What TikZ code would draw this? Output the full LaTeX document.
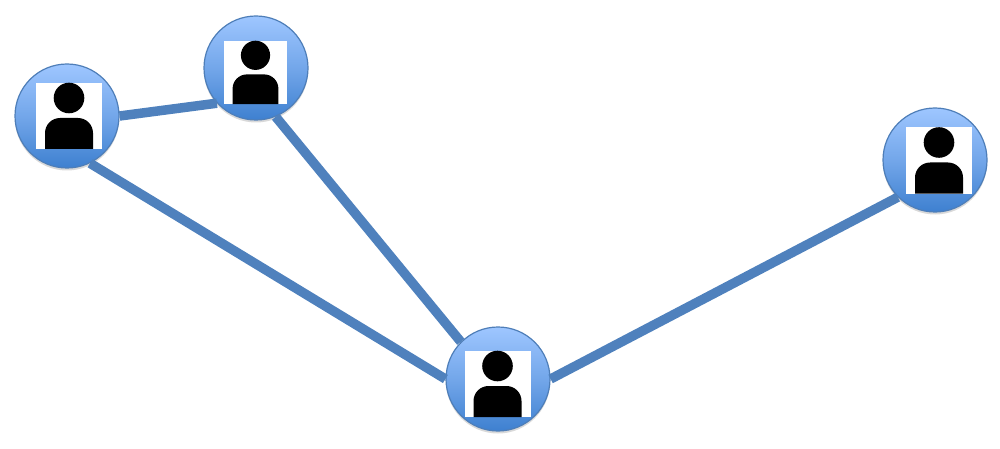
\documentclass[tikz,border=0pt]{standalone}
\usepackage{amsmath,amssymb,amsfonts}
\usepackage{tikz}
\usetikzlibrary{shadows,calc}
\definecolor{linkBlue}{RGB}{79, 129, 189}
\definecolor{discTop}{RGB}{158, 198, 255}
\definecolor{discBottom}{RGB}{62, 128, 208}
\definecolor{discEdge}{RGB}{78, 126, 184}
\tikzset{
  persondisc/.style={circle, draw=discEdge, line width=1.2pt, minimum size=104pt, inner sep=0pt,
    top color=discTop, bottom color=discBottom, middle color=discTop!55!discBottom,
    drop shadow={opacity=0.3, shadow xshift=0pt, shadow yshift=-2.5pt}},
  linkline/.style={linkBlue, line width=9.5pt,
    preaction={draw=black, opacity=0.12, transform canvas={yshift=-2pt}}}
}
% photo square with the figure, drawn around the current origin
\newcommand{\personicon}[1]{%
  \fill[white] (-33*#1,-33*#1) rectangle (33*#1,33*#1);
  \fill[black] (0,-18*#1) circle (15.3*#1);
  \fill[black] (-24*#1,33*#1) -- (-24*#1,17*#1) arc[start angle=180, end angle=270, radius=15*#1]
    -- (9*#1,2*#1) arc[start angle=270, end angle=360, radius=15*#1] -- (24*#1,33*#1) -- cycle;
}

\begin{document}
\begin{tikzpicture}[x=1pt,y=-1pt]
  \useasboundingbox (0,0) rectangle (1000,449);

  % 1. Links and discs
  \node[persondisc] (leftUser) at (67,116) {};
  \node[persondisc] (topUser) at (256,68) {};
  \node[persondisc] (hubUser) at (498,379) {};
  \node[persondisc] (rightUser) at (935,160) {};

  \draw[linkline] (leftUser.east) -- (topUser.-138);
  \draw[linkline] (leftUser.-64) -- (hubUser.west);
  \draw[linkline] (topUser.-68) -- (hubUser.135);
  \draw[linkline] (hubUser.east) -- (rightUser.225);

  % 2. Photos
  \begin{scope}[shift={(69,116)}]
  \personicon{1}
  \end{scope}
  \begin{scope}[shift={(255.5,72.5)}]
  \personicon{0.955}
  \end{scope}
  \begin{scope}[shift={(497.5,384)}]
  \personicon{1}
  \end{scope}
  \begin{scope}[shift={(939,160.5)}]
  \personicon{1}
  \end{scope}
\end{tikzpicture}
\end{document}
